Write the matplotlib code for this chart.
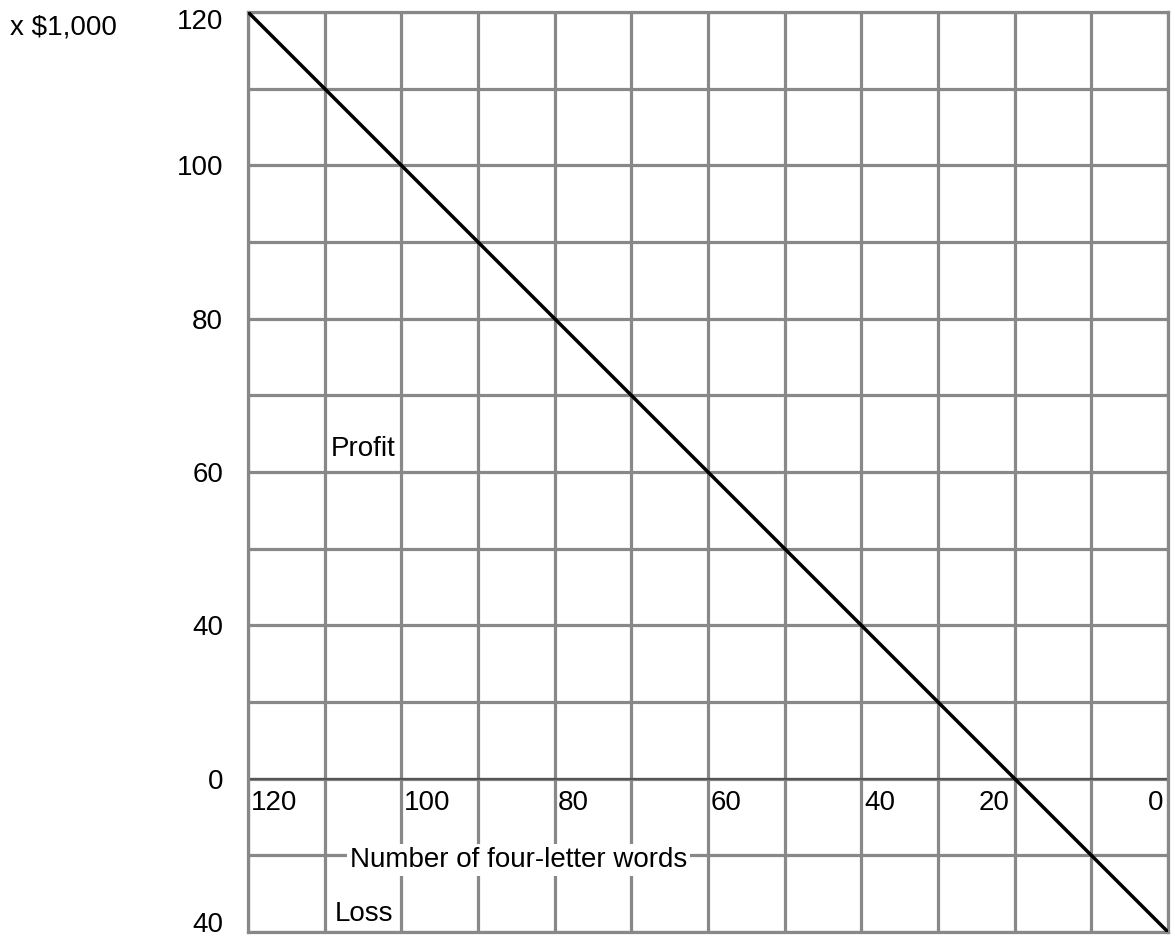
import matplotlib
matplotlib.use("Agg")
import matplotlib.pyplot as plt

plt.rcParams['font.family'] = ['Liberation Sans', 'DejaVu Sans']

# Data
words_x = [120, 0]            # number of four-letter words (line endpoints)
profit_y = [100, -20]         # plotting position of the line endpoints
x_tick_vals = [120, 100, 80, 60, 40, 20, 0]
x_tick_labels = ["120", "100", "80", "60", "40", "20", "0"]
y_tick_vals = [100, 80, 60, 40, 20, 0, -20]
y_tick_labels = ["120", "100", "80", "60", "40", "0", "40"]

W, H = 1175, 941
FS = 20
fig = plt.figure(figsize=(W / 100, H / 100), dpi=100)
ax = fig.add_axes([248 / W, (H - 932) / H, 920 / W, 920 / H])

ax.set_xlim(120, 0)
ax.set_ylim(-20, 100)

grid_c = "#888888"
ax.set_xticks(range(0, 121, 10))
ax.set_xticklabels([])
ax.set_yticks(range(-20, 101, 10))
ax.set_yticklabels([])
ax.tick_params(length=0)
ax.grid(True, color=grid_c, linewidth=2.3, zorder=1)
ax.set_axisbelow(True)
for s in ax.spines.values():
    s.set_color(grid_c)
    s.set_linewidth(2.3)

# y labels outside the axes, left
ymax, ymin = max(y_tick_vals), min(y_tick_vals)
for v, lab in zip(y_tick_vals, y_tick_labels):
    dy = -2.2
    if v == ymax:
        dy = -7.5
    elif v == ymin:
        dy = 5
    ax.annotate(lab, xy=(0, v), xycoords=("axes fraction", "data"),
                xytext=(-18, dy), textcoords="offset points",
                ha="right", va="center", fontsize=FS, annotation_clip=False)

# zero line
ax.axhline(0, color="#555555", linewidth=1.6, zorder=2)

# profit line
ax.plot(words_x, profit_y, color="black", linewidth=2.5, zorder=3, solid_capstyle="butt")

# x labels inside plot below zero line
for v, lab in zip(x_tick_vals, x_tick_labels):
    if v >= 40:
        ax.annotate(lab, xy=(v, 0), xytext=(2, -8), textcoords="offset points",
                    ha="left", va="top", fontsize=FS, zorder=4)
    else:
        ax.annotate(lab, xy=(v, 0), xytext=(-3.5, -8), textcoords="offset points",
                    ha="right", va="top", fontsize=FS, zorder=4)

ax.text(109.2, 43.0, "Profit", fontsize=FS, ha="left", va="center", zorder=4)
ax.text(106.7, -10.6, "Number of four-letter words", fontsize=FS, ha="left", va="center", zorder=4,
        bbox=dict(facecolor="white", edgecolor="none", pad=2))
ax.text(108.65, -17.6, "Loss", fontsize=FS, ha="left", va="center", zorder=4)

fig.text(10 / W, 1 - 28 / H, "x $1,000", fontsize=FS, ha="left", va="center")

fig.savefig("out.png", dpi=100)
